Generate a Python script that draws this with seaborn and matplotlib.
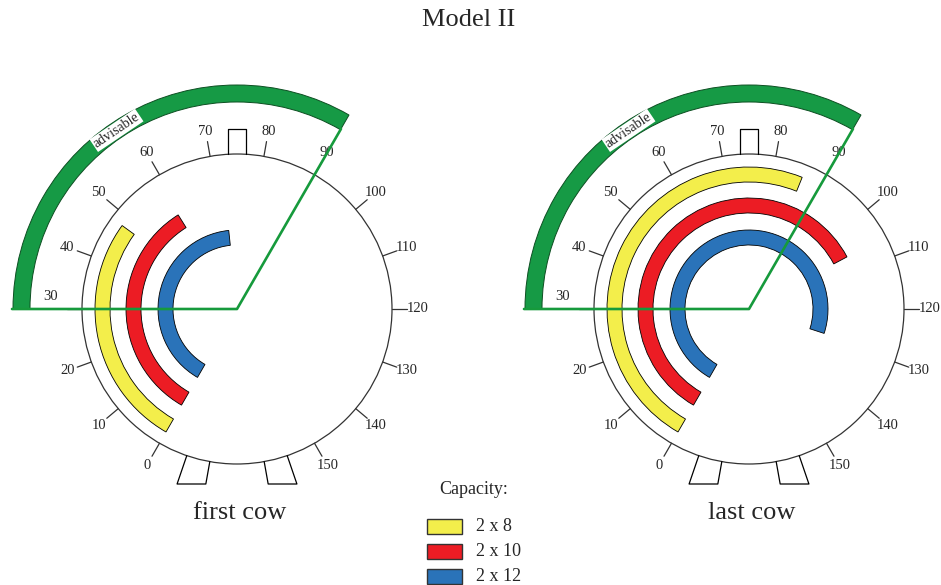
import numpy as np
import matplotlib
matplotlib.use("Agg")
import matplotlib.pyplot as plt
import matplotlib.patches as mpatches
import seaborn as sns

# time scale around the parlour ring runs 0..150
panels = ["first cow", "last cow"]
capacities = ["2 x 8", "2 x 10", "2 x 12"]
first_start = [0, 0, 0]
first_end = [48, 59, 72]
last_start = [0, 0, 0]
last_end = [86, 106, 129]
tick_values = list(range(0, 151, 10))
advisable_start = 30
advisable_end = 90
advisable_label = "advisable"
top_door = 75
bottom_doors = [-7.75, 157.75]

sns.set_style("white")
plt.rcParams["font.family"] = ["Liberation Serif", "DejaVu Serif"]

palette = sns.color_palette(["#f3ee4b", "#ec1c24", "#2a73b9"])
green = "#169a45"
ring_col = "#333333"

R = 155
bar_outer = [142, 111, 79]
bar_width = 15


def ang(t):
    # clockwise scale: 30 -> west, 75 -> top, 120 -> east
    return 240 - 2 * t


def polar(cx, cy, r, t):
    a = np.radians(ang(t))
    return cx + r * np.cos(a), cy + r * np.sin(a)


fig = plt.figure(figsize=(9.41, 5.85), dpi=100)
ax = fig.add_axes([0, 0, 1, 1])
ax.set_xlim(0, 941)
ax.set_ylim(0, 585)
ax.set_aspect("equal")
ax.axis("off")


def draw_panel(cx, cy, starts, ends, label):
    # advisable zone band
    ax.add_patch(mpatches.Wedge((cx, cy), 224, ang(advisable_end), ang(advisable_start),
                                width=17, facecolor=green, edgecolor="#0d4f22", lw=0.7, zorder=2))
    tx, ty = polar(cx, cy, 215.5, 58)
    ax.text(tx, ty, advisable_label, rotation=ang(58) - 90, ha="center", va="center",
            fontsize=10, rotation_mode="anchor", zorder=3,
            bbox=dict(facecolor="white", edgecolor="none", pad=0.8))

    # ring
    ax.add_patch(mpatches.Circle((cx, cy), R, fill=False, edgecolor=ring_col, lw=0.9, zorder=2))
    for t in tick_values:
        x0, y0 = polar(cx, cy, R, t)
        x1, y1 = polar(cx, cy, R + 15, t)
        ax.plot([x0, x1], [y0, y1], color=ring_col, lw=0.9, zorder=2)
        lx, ly = polar(cx, cy, 180.5, t)
        if t == advisable_start:
            lx, ly = lx - 6, ly + 12
        ax.text(lx, ly, str(t), ha="center", va="center", fontsize=10.5, zorder=3)

    # top door (rectangle)
    a = np.radians(ang(top_door))
    u = np.array([np.cos(a), np.sin(a)])
    p = np.array([-np.sin(a), np.cos(a)])
    c = np.array([cx, cy])
    pts = [c + u * 154.7 + p * 9, c + u * 180 + p * 9, c + u * 180 - p * 9, c + u * 154.7 - p * 9]
    ax.plot([q[0] for q in pts], [q[1] for q in pts], color="black", lw=0.9, zorder=2)

    # bottom doors (radial sides, flat bottom)
    for t in bottom_doors:
        pts = []
        for dt in (-2.2, 2.2):
            aa = np.radians(ang(t + dt))
            rb = 175 / abs(np.sin(aa))
            pts.append((polar(cx, cy, R, t + dt), polar(cx, cy, rb, t + dt)))
        xs = [pts[0][0][0], pts[0][1][0], pts[1][1][0], pts[1][0][0]]
        ys = [pts[0][0][1], pts[0][1][1], pts[1][1][1], pts[1][0][1]]
        ax.plot(xs, ys, color="black", lw=0.9, zorder=2)

    # capacity bars
    for i in range(len(capacities)):
        ax.add_patch(mpatches.Wedge((cx, cy), bar_outer[i], ang(ends[i]), ang(starts[i]),
                                    width=bar_width, facecolor=palette[i], edgecolor="black",
                                    lw=0.6, zorder=3))

    # advisable sector lines
    x0, y0 = polar(cx, cy, 225, advisable_start)
    x1, y1 = polar(cx, cy, 208, advisable_end)
    ax.plot([x0, cx, x1], [y0, cy, y1], color="#169a3c", lw=1.9, zorder=4)

    ax.text(cx + 3, 72, label, ha="center", va="center", fontsize=19)


draw_panel(237, 276, first_start, first_end, panels[0])
draw_panel(749, 276, last_start, last_end, panels[1])

ax.text(468.5, 565, "Model II", ha="center", va="center", fontsize=19)

# legend
ax.text(474, 95, "Capacity:", ha="center", va="center", fontsize=13)
for i, name in enumerate(capacities):
    yb = 51 - 25 * i
    ax.add_patch(mpatches.Rectangle((427, yb), 35, 15, facecolor=palette[i],
                                    edgecolor="#333333", lw=1.0))
    ax.text(476, yb + 7.5, name, ha="left", va="center", fontsize=13)

fig.savefig("out.png", dpi=100)
